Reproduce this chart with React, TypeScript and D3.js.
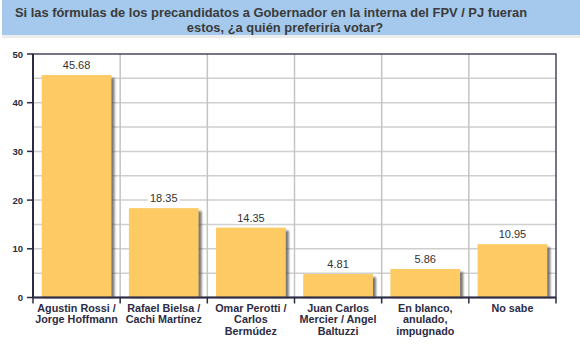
import { useEffect, useRef } from 'react';
import * as d3 from 'd3';

const W = 580;
const H = 351;

const TITLE = [
  'Si las fórmulas de los precandidatos a Gobernador en la interna del FPV / PJ fueran',
  'estos, ¿a quién preferiría votar?',
];
const TITLE_CX = [271, 285];
const CATEGORIES = [
  'Agustin Rossi / Jorge Hoffmann',
  'Rafael Bielsa / Cachi Martínez',
  'Omar Perotti / Carlos Bermúdez',
  'Juan Carlos Mercier / Angel Baltuzzi',
  'En blanco, anulado, impugnado',
  'No sabe',
];
const CAT_LINES = [
  ['Agustin Rossi /', 'Jorge Hoffmann'],
  ['Rafael Bielsa /', 'Cachi Martínez'],
  ['Omar Perotti /', 'Carlos', 'Bermúdez'],
  ['Juan Carlos', 'Mercier / Angel', 'Baltuzzi'],
  ['En blanco,', 'anulado,', 'impugnado'],
  ['No sabe'],
];
const VALUES = [45.68, 18.35, 14.35, 4.81, 5.86, 10.95];
const Y_TICKS = [0, 10, 20, 30, 40, 50];
const Y_GRID = [5, 10, 15, 20, 25, 30, 35, 40, 45];

export default function App() {
  const ref = useRef<SVGSVGElement | null>(null);

  useEffect(() => {
    const svg = d3.select(ref.current!);
    svg.selectAll('*').remove();
    const m = { left: 33, right: 556, top: 54, bottom: 297.5 };
    const font = 'Liberation Sans, Arial, sans-serif';

    const x = d3.scaleBand<string>().domain(CATEGORIES).range([m.left, m.right]).paddingInner(0.2).paddingOuter(0.1);
    const xb = d3.scaleBand<string>().domain(CATEGORIES).range([m.left, m.right]);
    const y = d3.scaleLinear().domain([0, 50]).range([m.bottom, m.top]);

    const defs = svg.append('defs');
    const f = defs.append('filter').attr('id', 'sh').attr('x', '-20%').attr('y', '-20%').attr('width', '150%').attr('height', '150%');
    f.append('feGaussianBlur').attr('stdDeviation', 1.2);

    // title band
    svg.append('rect').attr('x', 2).attr('y', 35).attr('width', 578).attr('height', 3).attr('fill', '#ececec');
    svg.append('rect').attr('x', 2).attr('y', 0).attr('width', 578).attr('height', 35).attr('fill', '#a4c9ec');
    svg.append('g').selectAll('text').data(TITLE).enter().append('text')
      .attr('x', (_, i) => TITLE_CX[i]).attr('y', (_, i) => 17 + i * 14.5)
      .attr('text-anchor', 'middle').attr('font-family', font)
      .attr('font-size', 12.9).attr('font-weight', 'bold').attr('fill', '#3a3a3a')
      .text((d) => d);

    // grid
    const g = svg.append('g');
    g.selectAll('line.h').data(Y_GRID).enter().append('line')
      .attr('x1', m.left).attr('x2', m.right).attr('y1', (d) => y(d)).attr('y2', (d) => y(d))
      .attr('stroke', '#cfcfcf').attr('stroke-width', 1.5);
    g.selectAll('line.v').data(CATEGORIES.slice(1)).enter().append('line')
      .attr('x1', (d) => xb(d)!).attr('x2', (d) => xb(d)!).attr('y1', m.top).attr('y2', m.bottom)
      .attr('stroke', '#c4c4c4').attr('stroke-width', 1.5);

    // bars
    const bars = svg.append('g');
    bars.selectAll('rect.s').data(VALUES).enter().append('rect')
      .attr('x', (_, i) => x(CATEGORIES[i])! + 3).attr('y', (d) => y(d) + 3)
      .attr('width', x.bandwidth()).attr('height', (d) => m.bottom - y(d) - 3)
      .attr('fill', '#4a4a4a').attr('opacity', 0.75).attr('filter', 'url(#sh)');
    bars.selectAll('rect.b').data(VALUES).enter().append('rect')
      .attr('x', (_, i) => x(CATEGORIES[i])!).attr('y', (d) => y(d))
      .attr('width', x.bandwidth()).attr('height', (d) => m.bottom - y(d))
      .attr('fill', '#fdca63');

    // value labels
    const lab = svg.append('g').attr('font-family', font).attr('font-size', 11);
    VALUES.forEach((v, i) => {
      const cx = x(CATEGORIES[i])! + x.bandwidth() / 2;
      const t = v.toFixed(2);
      lab.append('rect').attr('x', cx - 16).attr('y', y(v) - 17).attr('width', 32).attr('height', 13).attr('fill', '#fff');
      lab.append('text').attr('x', cx).attr('y', y(v) - 6).attr('text-anchor', 'middle').attr('fill', '#333').text(t);
    });

    // frame
    const frame = svg.append('g').attr('stroke', '#2b2b45').attr('fill', 'none');
    frame.append('rect').attr('x', m.left).attr('y', m.top).attr('width', m.right - m.left).attr('height', m.bottom - m.top).attr('stroke-width', 1.3);
    frame.append('line').attr('x1', m.left).attr('x2', m.left).attr('y1', m.top).attr('y2', m.bottom).attr('stroke-width', 2);
    frame.append('line').attr('x1', m.left).attr('x2', m.right).attr('y1', m.bottom).attr('y2', m.bottom).attr('stroke-width', 2);

    // y axis
    const ya = svg.append('g').attr('font-family', font);
    Y_TICKS.forEach((t) => {
      ya.append('line').attr('x1', m.left - 6).attr('x2', m.left).attr('y1', y(t)).attr('y2', y(t)).attr('stroke', '#2b2b45').attr('stroke-width', 1.5);
      ya.append('text').attr('x', m.left - 10).attr('y', y(t) + 3.5).attr('text-anchor', 'end')
        .attr('font-size', 9.5).attr('font-weight', 'bold').attr('fill', '#2b2b3a').text(t);
    });

    // x ticks and labels
    const xa = svg.append('g').attr('font-family', font);
    [...CATEGORIES.map((c) => xb(c)!), m.right].forEach((px) => {
      xa.append('line').attr('x1', px).attr('x2', px).attr('y1', m.bottom).attr('y2', m.bottom + 6).attr('stroke', '#2b2b45').attr('stroke-width', 1.5);
    });
    CATEGORIES.forEach((c, i) => {
      const cx = xb(c)! + xb.bandwidth() / 2;
      CAT_LINES[i].forEach((ln, j) => {
        xa.append('text').attr('x', cx).attr('y', m.bottom + 14 + j * 11.5).attr('text-anchor', 'middle')
          .attr('font-size', 10.8).attr('font-weight', 'bold').attr('fill', '#2c2c44').text(ln);
      });
    });
  }, []);

  return (
    <div style={{ position: 'absolute', left: 0, top: 0, width: W, height: H, background: '#fff' }}>
      <svg ref={ref} width={W} height={H} style={{ display: 'block' }} />
    </div>
  );
}
